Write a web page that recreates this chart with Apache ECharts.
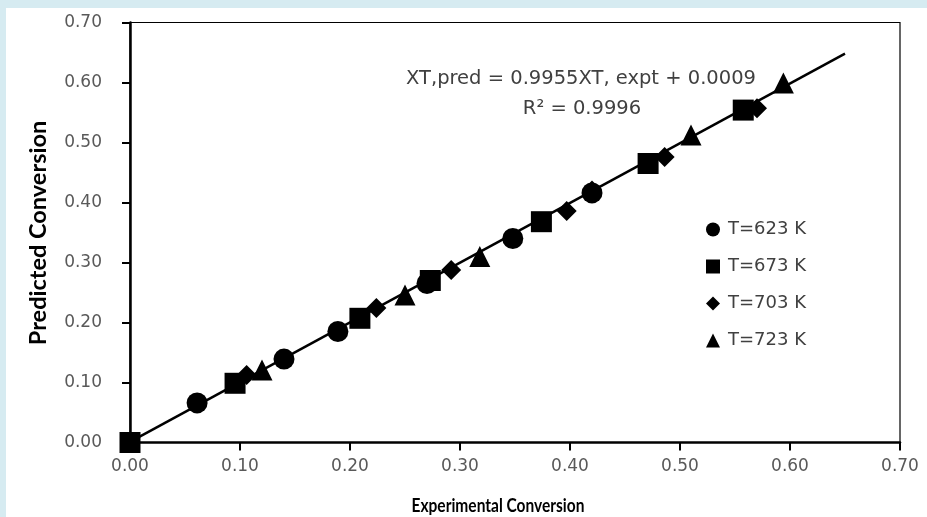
<!DOCTYPE html>
<html>
<head>
<meta charset="utf-8">
<script src="https://cdn.jsdelivr.net/npm/echarts@6/dist/echarts.min.js"></script>
<style>
html,body{margin:0;padding:0;background:#d6ebf1;width:927px;height:517px;overflow:hidden;}
#chart{position:absolute;left:6px;top:8px;width:921px;height:509px;background:#ffffff;}
</style>
</head>
<body>
<div id="chart"></div>
<script>
// ---- data ----
const seriesNames = ['T=623 K', 'T=673 K', 'T=703 K', 'T=723 K'];
const t623 = [[0.061,0.066],[0.140,0.139],[0.189,0.185],[0.270,0.265],[0.348,0.340],[0.420,0.416]];
const t673 = [[0.000,0.000],[0.0955,0.0987],[0.209,0.207],[0.273,0.270],[0.374,0.368],[0.471,0.465],[0.5575,0.554]];
const t703 = [[0.106,0.1125],[0.224,0.224],[0.292,0.2875],[0.397,0.386],[0.420,0.420],[0.486,0.476],[0.570,0.557]];
const t723 = [[0.120,0.121],[0.250,0.246],[0.318,0.310],[0.510,0.5125],[0.594,0.599]];
const fitLine = [[0.000,0.0009],[0.650,0.648]];
const axisTicks = [0.00,0.10,0.20,0.30,0.40,0.50,0.60,0.70];
const xTitle = 'Experimental Conversion';
const yTitle = 'Predicted Conversion';
const eqLine1 = 'XT,pred = 0.9955XT, expt + 0.0009';
const eqLine2 = 'R\u00b2 = 0.9996';

const symbols = ['circle', 'rect', 'diamond', 'triangle'];
const sizes = [21, 21, 20, 21];
const pointSets = [t623, t673, t703, t723];

const chart = echarts.init(document.getElementById('chart'));
const tickFmt = v => v.toFixed(2);

const scatterSeries = pointSets.map((pts, i) => ({
  name: seriesNames[i],
  type: 'scatter',
  data: pts,
  symbol: symbols[i],
  symbolSize: sizes[i],
  itemStyle: { color: '#000000', opacity: 1 },
  z: 5
}));

chart.setOption({
  animation: false,
  grid: { left: 124, top: 14.5, width: 770, height: 420, show: true, borderColor: '#000', borderWidth: 1.2, backgroundColor: 'transparent' },
  xAxis: {
    type: 'value', min: axisTicks[0], max: axisTicks[axisTicks.length-1], interval: 0.1,
    axisLine: { show: true, onZero: false, lineStyle: { color: '#000', width: 2.5 } },
    axisTick: { show: true, inside: false, length: 8, lineStyle: { color: '#000', width: 2 } },
    axisLabel: { formatter: tickFmt, color: '#595959', fontFamily: 'DejaVu Sans', fontSize: 17, margin: 16 },
    splitLine: { show: false }
  },
  yAxis: {
    type: 'value', min: axisTicks[0], max: axisTicks[axisTicks.length-1], interval: 0.1,
    axisLine: { show: true, onZero: false, lineStyle: { color: '#000', width: 2.5 } },
    axisTick: { show: true, inside: false, length: 8, lineStyle: { color: '#000', width: 2 } },
    axisLabel: { formatter: tickFmt, color: '#595959', fontFamily: 'DejaVu Sans', fontSize: 17, margin: 28 },
    splitLine: { show: false }
  },
  legend: {
    data: seriesNames.map((n, i) => ({ name: n, icon: symbols[i] })),
    orient: 'vertical',
    left: 700, top: 212.5, padding: 0,
    itemWidth: 14, itemHeight: 14, itemGap: 19,
    textStyle: { color: '#404040', fontFamily: 'DejaVu Sans', fontSize: 18, padding: [0,0,0,3] },
    itemStyle: { color: '#000' },
    selectedMode: false
  },
  graphic: [
    { type: 'text', x: 575, y: 71, style: { text: eqLine1, fill: '#404040', font: '19.5px "DejaVu Sans"', align: 'center', verticalAlign: 'middle' } },
    { type: 'text', x: 576, y: 101, style: { text: eqLine2, fill: '#404040', font: '19.5px "DejaVu Sans"', align: 'center', verticalAlign: 'middle' } },
    { type: 'text', x: 492, y: 498, scaleY: 1.25, style: { text: xTitle, fill: '#000', font: 'bold 15.5px Lato', align: 'center', verticalAlign: 'middle' } },
    { type: 'text', x: 32, y: 225, rotation: Math.PI/2, style: { text: yTitle, fill: '#000', font: 'bold 23.5px Lato', align: 'center', verticalAlign: 'middle' } }
  ],
  series: [
    {
      name: 'fit', type: 'line', data: fitLine, symbol: 'none',
      lineStyle: { color: '#000', width: 2.5 }, z: 3
    }
  ].concat(scatterSeries)
});
</script>
</body>
</html>
